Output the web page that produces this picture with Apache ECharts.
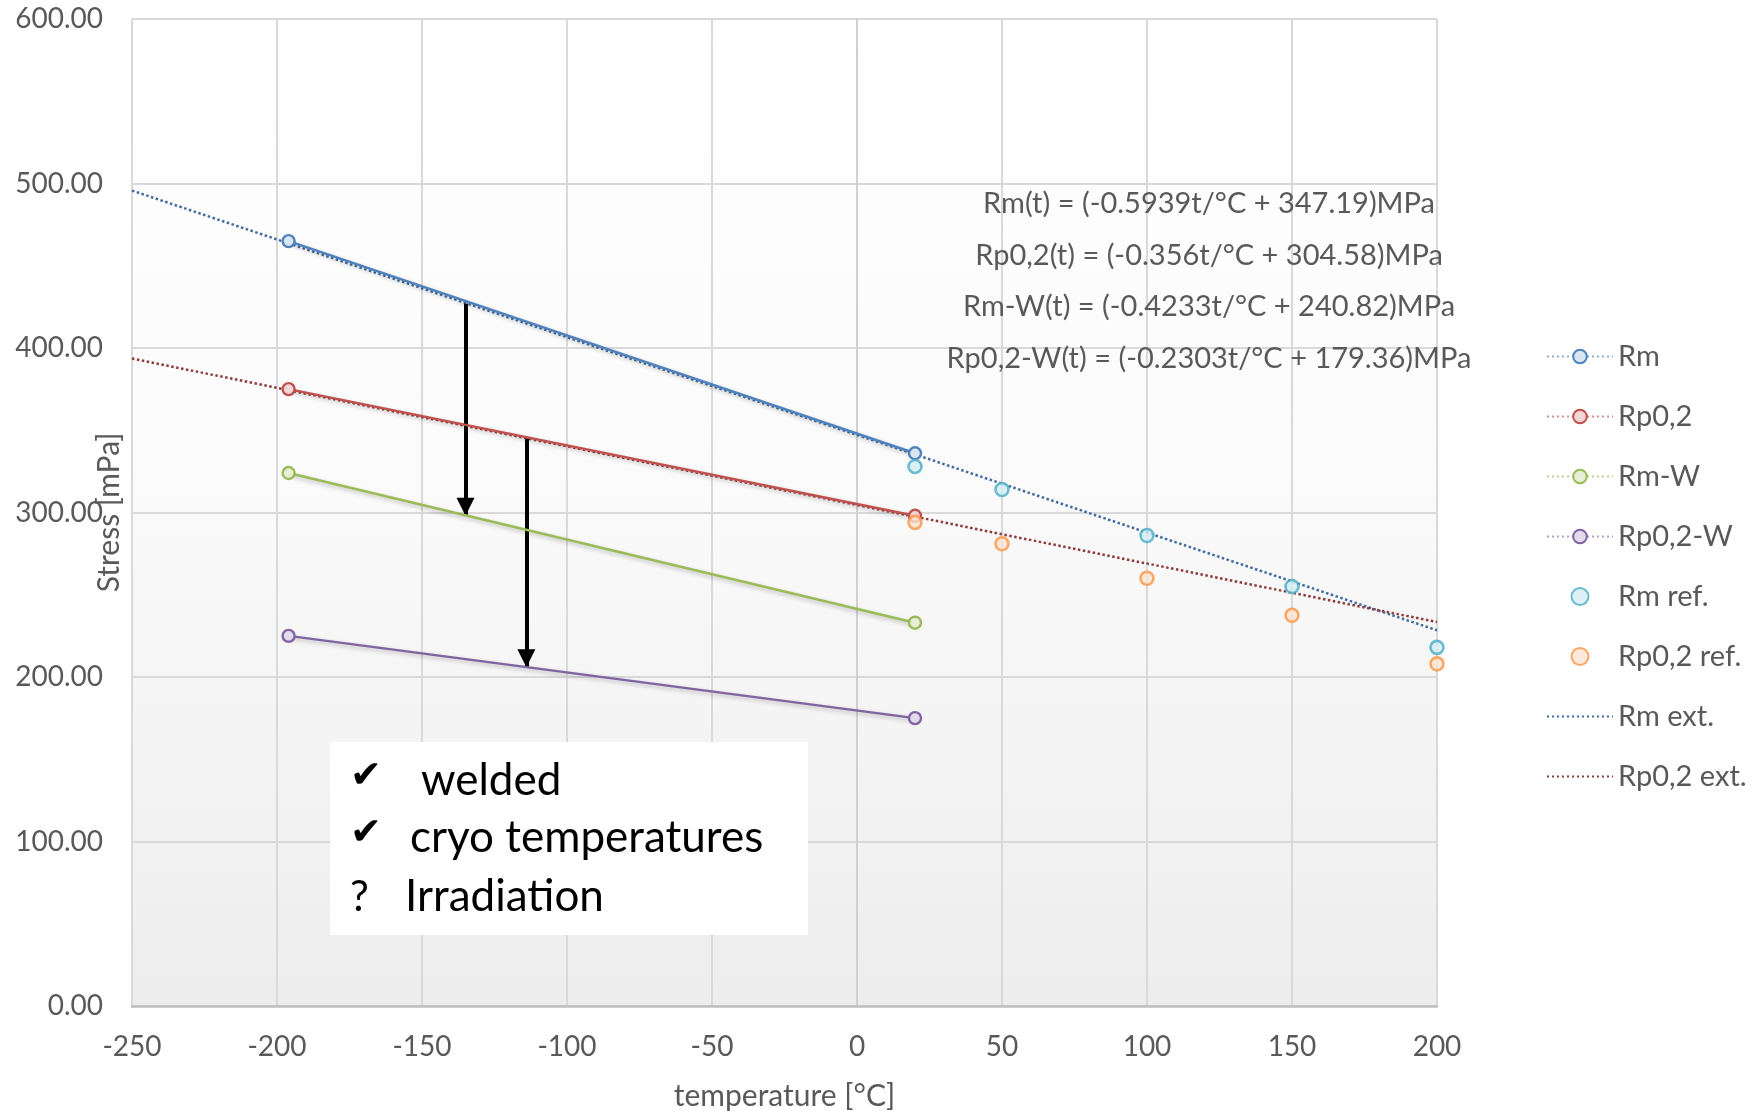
<!DOCTYPE html>
<html><head><meta charset="utf-8">
<script src="https://cdn.jsdelivr.net/npm/echarts@6/dist/echarts.min.js"></script>
<style>html,body{margin:0;padding:0;background:#fff}#c{width:1760px;height:1111px}</style>
</head><body><div id="c"></div>
<script>
// ---- data ----
const weldT = [-196, 20];
const rm = [465, 336];
const rp02 = [375, 298];
const rmW = [324, 233];
const rp02W = [225, 175];
const refT = [20, 50, 100, 150, 200];
const rmRef = [328, 314, 286, 255, 218];
const rp02Ref = [294, 281, 260, 237.5, 208];
const extT = [-250, 200];
const rmExt = [495.7, 228.4];
const rp02Ext = [393.6, 233.4];
const arrowT = [-135, -114];
const arrowFrom = [427, 345];
const arrowTo = [298, 206];
const legendNames = ['Rm', 'Rp0,2', 'Rm-W', 'Rp0,2-W', 'Rm ref.', 'Rp0,2 ref.', 'Rm ext.', 'Rp0,2 ext.'];
const equations = [
  'Rm(t) = (-0.5939t/°C + 347.19)MPa',
  'Rp0,2(t) = (-0.356t/°C + 304.58)MPa',
  'Rm-W(t) = (-0.4233t/°C + 240.82)MPa',
  'Rp0,2-W(t) = (-0.2303t/°C + 179.36)MPa'
];
const noteMarks = ['✔', '✔', '?'];
const noteWords = ['welded', 'cryo temperatures', 'Irradiation'];
const xName = 'temperature [°C]';
const yName = 'Stress [mPa]';

const pairs = (xs, ys) => xs.map((x, i) => [x, ys[i]]);
const FONT = 'Lato, "Open Sans", sans-serif';
const GRAY = '#595959';

function lineSeries(name, ys, color, fill) {
  return {
    name, type: 'line', data: pairs(weldT, ys), z: 5,
    symbol: 'circle', symbolSize: 12, showSymbol: true,
    lineStyle: { color, width: 2.5, shadowColor: 'rgba(0,0,0,0.25)', shadowBlur: 4, shadowOffsetY: 2 },
    itemStyle: { color: fill, borderColor: color, borderWidth: 2.4 },
    emphasis: { disabled: true }, animation: false
  };
}
function refSeries(name, ys, color, fill) {
  return {
    name, type: 'scatter', data: pairs(refT, ys), z: 6,
    symbol: 'circle', symbolSize: 13,
    itemStyle: { color: fill, borderColor: color, borderWidth: 2.6 },
    emphasis: { disabled: true }, animation: false
  };
}
function extSeries(name, ys, color) {
  return {
    name, type: 'line', data: pairs(extT, ys), z: 3,
    symbol: 'none', showSymbol: false,
    itemStyle: { color },
    lineStyle: { color, width: 2.5, type: [2.5, 2.5] },
    emphasis: { disabled: true }, animation: false
  };
}

const chart = echarts.init(document.getElementById('c'), null, { renderer: 'canvas' });

const graphics = [];
equations.forEach((t, i) => {
  graphics.push({ type: 'text', x: 1209, y: 204 + i * 51.5, z: 10,
    style: { text: t, fill: GRAY, font: '29px ' + FONT, textAlign: 'center', textVerticalAlign: 'middle' } });
});
graphics.push({ type: 'rect', shape: { x: 330, y: 742, width: 478, height: 193 }, style: { fill: '#ffffff' }, z: 10 });
const noteY = [781, 838, 897];
const noteX = [421, 410, 405];
noteMarks.forEach((m, i) => {
  graphics.push({ type: 'text', x: 350, y: noteY[i] - (m === '?' ? 0 : 4), z: 11,
    style: { text: m, fill: '#000', font: (m === '?' ? '42px ' + FONT : '38px "DejaVu Sans"'), textVerticalAlign: 'middle' } });
  graphics.push({ type: 'text', x: noteX[i], y: noteY[i], z: 11,
    style: { text: noteWords[i], fill: '#000', font: '44px ' + FONT, textVerticalAlign: 'middle' } });
});

chart.setOption({
  backgroundColor: '#ffffff',
  animation: false,
  grid: {
    left: 132, right: 323, top: 19, bottom: 105, show: true, borderWidth: 0,
    containLabel: false, outerBoundsMode: 'none',
    backgroundColor: { type: 'linear', x: 0, y: 0, x2: 0, y2: 1,
      colorStops: [{ offset: 0, color: '#ffffff' }, { offset: 0.45, color: '#fbfbfb' }, { offset: 1, color: '#ededed' }] }
  },
  xAxis: {
    type: 'value', min: -250, max: 200, interval: 50,
    name: xName, nameLocation: 'middle', nameGap: 75, nameMoveOverlap: false,
    nameTextStyle: { color: GRAY, fontSize: 30, fontFamily: FONT },
    axisLine: { show: true, onZero: false, lineStyle: { color: '#bfbfbf', width: 2.5 } },
    axisTick: { show: false },
    axisLabel: { color: GRAY, fontSize: 28, fontFamily: FONT, margin: 27 },
    splitLine: { show: true, lineStyle: { color: '#d9d9d9', width: 2 } }
  },
  yAxis: {
    type: 'value', min: 0, max: 600, interval: 100,
    name: yName, nameLocation: 'middle', nameGap: 8, nameRotate: 90, nameMoveOverlap: false,
    nameTextStyle: { color: GRAY, fontSize: 30, fontFamily: FONT },
    axisLine: { show: true, lineStyle: { color: '#d0d0d0', width: 2 } },
    axisTick: { show: false },
    axisLabel: { color: GRAY, fontSize: 28, fontFamily: FONT, margin: 29, formatter: v => v.toFixed(2) },
    splitLine: { show: true, lineStyle: { color: '#d9d9d9', width: 2 } }
  },
  legend: {
    orient: 'vertical', left: 1541, top: 336,
    itemWidth: 66, itemHeight: 17, itemGap: 29,
    textStyle: { color: GRAY, fontSize: 29, fontFamily: FONT, lineHeight: 31 },
    data: [
      { name: 'Rm', lineStyle: { type: [2, 3], color: '#8eb0dc', width: 2 } },
      { name: 'Rp0,2', lineStyle: { type: [2, 3], color: '#dc8c8a', width: 2 } },
      { name: 'Rm-W', lineStyle: { type: [2, 3], color: '#bcd28f', width: 2 } },
      { name: 'Rp0,2-W', lineStyle: { type: [2, 3], color: '#b09fc7', width: 2 } },
      { name: 'Rm ref.' },
      { name: 'Rp0,2 ref.' },
      { name: 'Rm ext.', lineStyle: { type: [2, 3], width: 2 }, itemStyle: { opacity: 0 } },
      { name: 'Rp0,2 ext.', lineStyle: { type: [2, 3], width: 2 }, itemStyle: { opacity: 0 } }
    ]
  },
  series: [
    lineSeries('Rm', rm, '#4F81BD', '#dbe6f4'),
    lineSeries('Rp0,2', rp02, '#C0504D', '#f3d6d5'),
    lineSeries('Rm-W', rmW, '#9BBB59', '#e6efd5'),
    lineSeries('Rp0,2-W', rp02W, '#8064A2', '#e2dbec'),
    refSeries('Rm ref.', rmRef, '#4BACC6', '#d3edf4'),
    refSeries('Rp0,2 ref.', rp02Ref, '#F79646', '#fde3cf'),
    extSeries('Rm ext.', rmExt, '#416b9e'),
    extSeries('Rp0,2 ext.', rp02Ext, '#8e3c3a'),
    {
      name: 'arrows', type: 'line', data: [], z: 8, animation: false,
      markLine: {
        silent: true, animation: false,
        symbol: ['none', 'triangle'], symbolSize: 18,
        symbolOffset: [[0, 0], [0, 9]],
        label: { show: false },
        lineStyle: { color: '#000', width: 4, type: 'solid' },
        emphasis: { disabled: true },
        data: arrowT.map((t, i) => [{ coord: [t, arrowFrom[i]] }, { coord: [t, arrowTo[i]] }])
      }
    }
  ],
  graphic: graphics
});
</script>
</body></html>
